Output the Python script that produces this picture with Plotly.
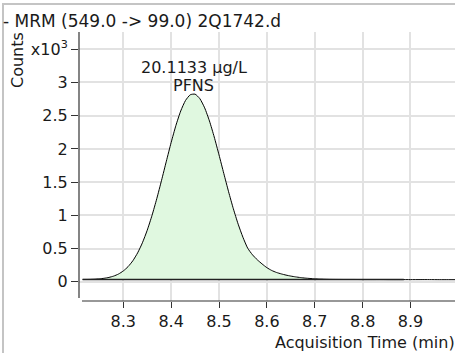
import plotly.graph_objects as go

# ---- data ----
time_min = [8.215, 8.22, 8.23, 8.24, 8.25, 8.26, 8.27, 8.28, 8.29, 8.30, 8.31, 8.32, 8.33, 8.34,
            8.35, 8.36, 8.37, 8.38, 8.39, 8.40, 8.41, 8.42, 8.43, 8.44, 8.45, 8.46, 8.47,
            8.48, 8.49, 8.50, 8.51, 8.52, 8.53, 8.54, 8.55, 8.56, 8.57, 8.58, 8.59, 8.60,
            8.61, 8.62, 8.63, 8.64, 8.65, 8.66, 8.67, 8.68, 8.69, 8.70, 8.71, 8.72, 8.73,
            8.74, 8.76, 8.78, 8.80, 8.82, 8.84, 8.86, 8.88, 8.90, 8.92, 8.94, 8.96, 8.98, 8.993]
counts_k = [0.035, 0.035, 0.036, 0.039, 0.044, 0.052, 0.065, 0.085, 0.116, 0.162, 0.227, 0.316,
            0.435, 0.587, 0.775, 0.998, 1.251, 1.528, 1.815, 2.096, 2.354, 2.571, 2.729,
            2.815, 2.824, 2.756, 2.618, 2.421, 2.179, 1.910, 1.630, 1.355, 1.098, 0.867,
            0.669, 0.504, 0.405, 0.330, 0.268, 0.212, 0.170, 0.140, 0.118, 0.100, 0.085,
            0.073, 0.063, 0.055, 0.049, 0.044, 0.041, 0.038, 0.036, 0.035, 0.034, 0.034,
            0.033, 0.033, 0.033, 0.032, 0.032, 0.032, 0.032, 0.032, 0.031, 0.031, 0.031]
baseline_x = [8.215, 8.886]
baseline_y = [0.032, 0.032]

x_ticks = [8.3, 8.4, 8.5, 8.6, 8.7, 8.8, 8.9]
x_ticklabels = ["8.3", "8.4", "8.5", "8.6", "8.7", "8.8", "8.9"]
y_ticks = [0, 0.5, 1, 1.5, 2, 2.5, 3, 3.5]
y_ticklabels = ["0", "0.5", "1", "1.5", "2", "2.5", "3", "x10<sup>3</sup>"]

title_text = "- MRM (549.0 -> 99.0) 2Q1742.d"
peak_amount = "20.1133 µg/L"
peak_name = "PFNS"
peak_label_x = 8.4476
x_title = "Acquisition Time (min)"
y_title = "Counts"

W, H = 455, 353
L, R, T, B = 79, 0, 32, 52
pw, ph = W - L - R, H - T - B


def px_x(p):
    return (p - L) / pw


def px_y(p):
    return (H - B - p) / ph


FONT = "DejaVu Sans, Liberation Sans, Arial, sans-serif"
TXT = "#1a1a1a"

fig = go.Figure()
fig.add_trace(go.Scatter(x=baseline_x, y=baseline_y, mode="lines",
                         line=dict(color="rgba(0,0,0,0)", width=0),
                         showlegend=False, hoverinfo="skip"))
fig.add_trace(go.Scatter(x=time_min, y=counts_k, mode="lines",
                         line=dict(color="black", width=1, shape="spline", smoothing=0.6),
                         fill="tonexty", fillcolor="rgb(224,248,224)",
                         showlegend=False))
fig.add_trace(go.Scatter(x=baseline_x, y=baseline_y, mode="lines",
                         line=dict(color="#222222", width=1.5),
                         showlegend=False, hoverinfo="skip"))

fig.update_layout(
    width=W, height=H,
    margin=dict(l=L, r=R, t=T, b=B, pad=0),
    paper_bgcolor="white", plot_bgcolor="white",
    font=dict(family=FONT, size=16, color=TXT),
    xaxis=dict(range=[8.2075, 8.993], tickvals=x_ticks, ticktext=x_ticklabels,
               showgrid=True, gridcolor="#e2e2e2", gridwidth=1.5,
               ticks="outside", ticklen=6, tickcolor="#333333", tickwidth=1,
               showline=False, zeroline=False, tickfont=dict(size=16)),
    yaxis=dict(range=[-0.29, 3.76], tickvals=y_ticks, ticktext=y_ticklabels,
               showgrid=True, gridcolor="#e2e2e2", gridwidth=1.5,
               ticks="outside", ticklen=7, tickcolor="#333333", tickwidth=1,
               showline=False, zeroline=False, tickfont=dict(size=16)),
    shapes=[
        # y axis line
        dict(type="line", xref="paper", yref="paper", x0=0, x1=0,
             y0=px_y(298), y1=1, line=dict(color="#333333", width=1.2)),
        # x axis line
        dict(type="line", xref="paper", yref="paper", x0=px_x(82), x1=1,
             y0=0, y1=0, line=dict(color="#333333", width=1.2)),
        # window frame
        dict(type="line", xref="paper", yref="paper", x0=px_x(2), x1=px_x(W),
             y0=px_y(4), y1=px_y(4), line=dict(color="#c4c4c4", width=2)),
        dict(type="line", xref="paper", yref="paper", x0=px_x(3), x1=px_x(3),
             y0=px_y(4), y1=px_y(H), line=dict(color="#c4c4c4", width=2)),
    ],
    annotations=[
        dict(text=title_text, xref="paper", yref="paper", x=px_x(1), y=px_y(21),
             xanchor="left", yanchor="middle", showarrow=False,
             font=dict(size=17, family=FONT, color=TXT)),
        dict(text=y_title, xref="paper", yref="paper", x=px_x(17), y=px_y(60),
             xanchor="center", yanchor="middle", textangle=-90, showarrow=False,
             font=dict(size=16, family=FONT, color=TXT)),
        dict(text=x_title, xref="paper", yref="paper", x=px_x(457), y=px_y(342),
             xanchor="right", yanchor="middle", showarrow=False,
             font=dict(size=16, family=FONT, color=TXT)),
        dict(text=peak_amount, xref="x", yref="y", x=peak_label_x, y=3.22,
             xanchor="center", yanchor="middle", showarrow=False,
             font=dict(size=16, family=FONT, color=TXT)),
        dict(text=peak_name, xref="x", yref="y", x=peak_label_x, y=2.95,
             xanchor="center", yanchor="middle", showarrow=False,
             font=dict(size=16, family=FONT, color=TXT)),
    ],
)

fig.write_html("out.html", config={"displayModeBar": False},
               post_script="document.body.style.margin='0px';")
